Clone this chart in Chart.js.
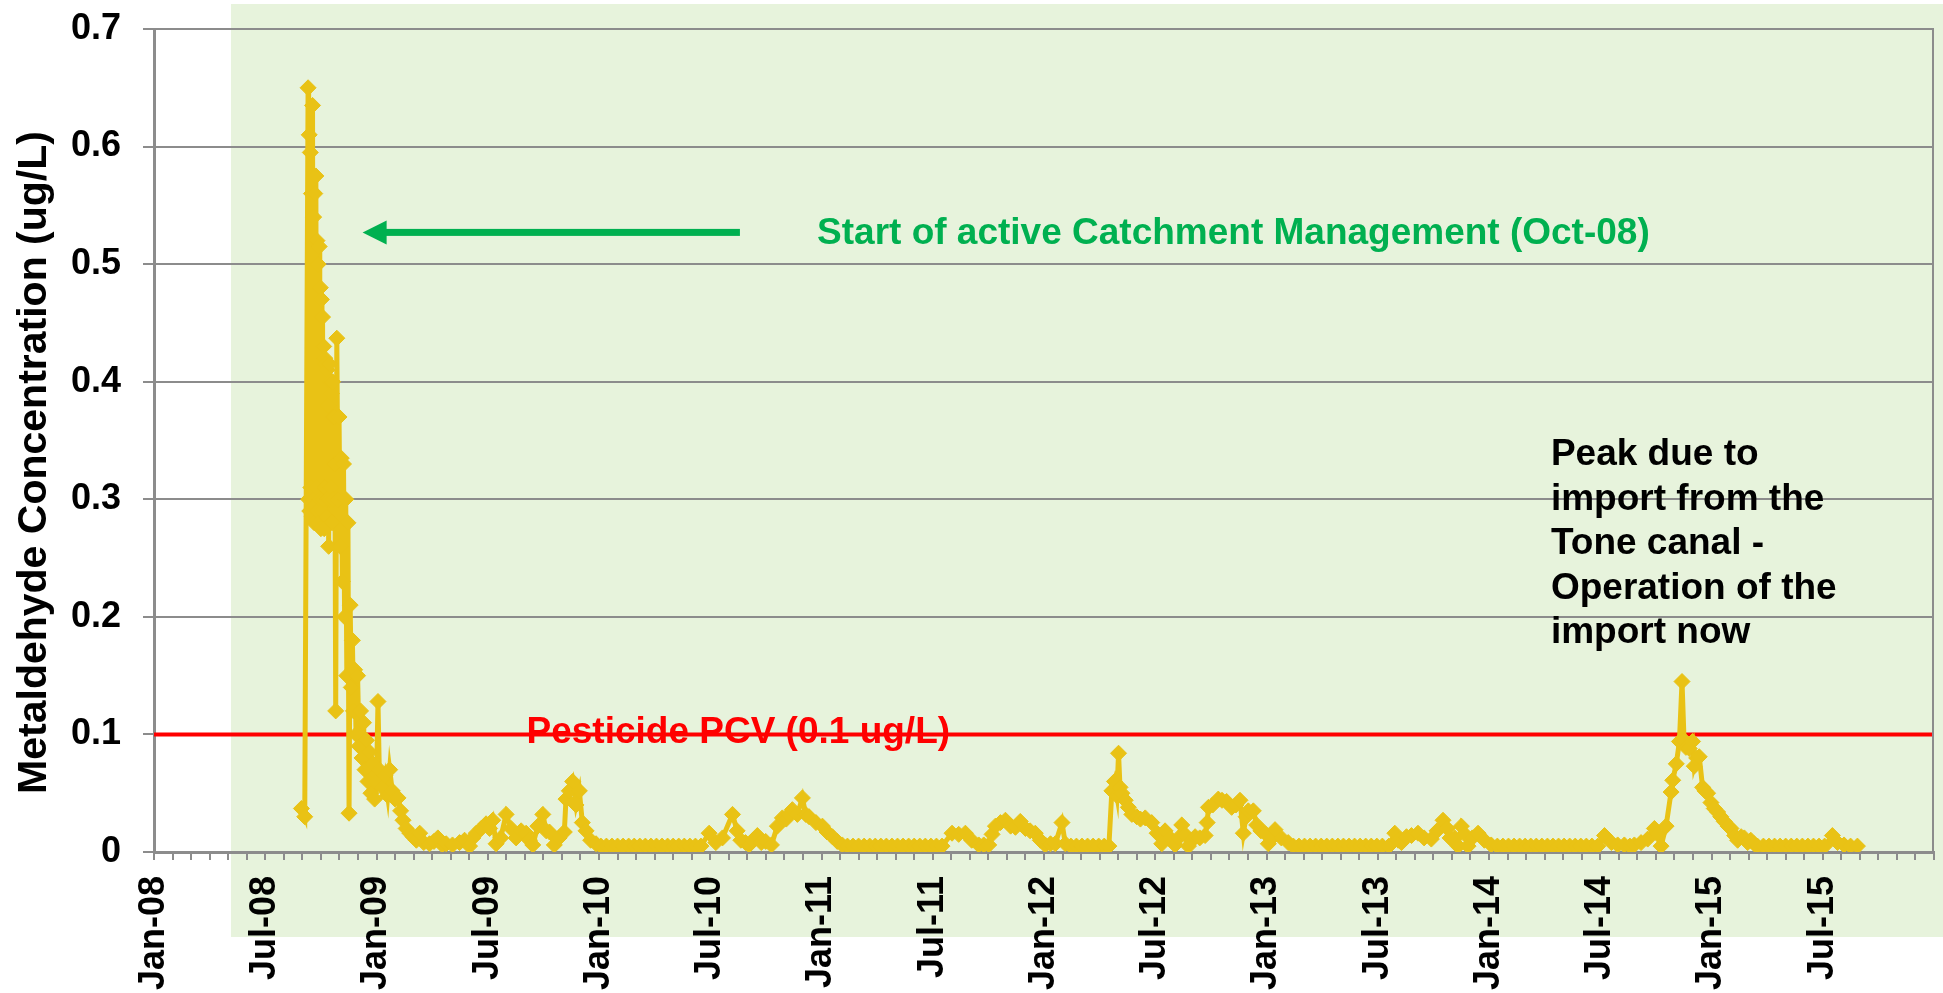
<!DOCTYPE html>
<html>
<head>
<meta charset="utf-8">
<title>Metaldehyde concentration</title>
<script src="https://cdn.jsdelivr.net/npm/chart.js@4.4.0/dist/chart.umd.min.js"></script>
<style>
  body { margin: 0; background: #fff; }
  #wrap { width: 1943px; height: 993px; }
</style>
</head>
<body>
<div id="wrap"><canvas id="metaldehydeChart" width="1943" height="993"></canvas></div>
<script>
// sample dates as months since 1 Jan 2008
var sampleMonths = [
    7.95, 8.13,
    8.31, 8.34, 8.37, 8.40, 8.43, 8.46, 8.49, 8.52, 8.55, 8.58, 8.61, 8.64, 8.67, 8.70, 8.73, 8.76, 8.79,
    8.82, 8.85, 8.88, 8.91, 8.94, 8.97, 9.00, 9.03, 9.06, 9.09, 9.12, 9.15, 9.18, 9.21, 9.24, 9.27, 9.30,
    9.33, 9.36, 9.39, 9.42, 9.45, 9.48, 9.51, 9.54, 9.57, 9.60, 9.63, 9.66, 9.69, 9.72, 9.75, 9.80, 9.86, 9.92, 9.98,
    10.04, 10.10, 10.16, 10.22, 10.28, 10.34, 10.40, 10.46, 10.52, 10.58, 10.64, 10.70, 10.76, 10.82, 10.90, 10.98,
    11.06, 11.14, 11.22, 11.30, 11.38, 11.46, 11.54, 11.62, 11.70, 11.80, 11.90, 12.00,
    12.08, 12.15, 12.30, 12.45, 12.60, 12.71, 12.85, 13.00, 13.16, 13.30, 13.43, 13.60, 13.80, 13.97,
    14.15, 14.33, 14.55, 14.86, 15.10, 15.31, 15.55, 15.76, 16.10, 16.48, 16.75, 17.02, 17.20, 17.38,
    17.65, 17.91, 18.10, 18.27, 18.45, 18.70, 18.99, 19.26, 19.53, 19.80, 20.07, 20.25, 20.43, 20.70,
    20.97, 21.15, 21.33, 21.59, 21.85, 22.13, 22.22, 22.40, 22.58, 22.76, 22.94, 23.10, 23.30, 23.55, 23.84,
    24.1, 24.4, 24.7, 25.0, 25.3, 25.6, 25.9, 26.2, 26.5, 26.8, 27.1, 27.4, 27.7, 28.0, 28.3, 28.6, 28.9, 29.2, 29.5,
    29.94, 30.30, 30.66, 31.20, 31.45, 31.65, 31.90, 32.10, 32.30, 32.54, 32.75, 32.99, 33.30, 33.62, 33.89,
    34.10, 34.25, 34.43, 34.70, 34.97, 35.15, 35.33, 35.70, 36.05, 36.30, 36.59, 36.85, 37.12,
    37.4, 37.7, 38.0, 38.3, 38.6, 38.9, 39.2, 39.5, 39.8, 40.1, 40.4, 40.7, 41.0, 41.3, 41.6, 41.9, 42.2, 42.5,
    43.04, 43.40, 43.76, 44.10, 44.48, 44.75, 45.02, 45.20, 45.38, 45.65, 45.92, 46.20, 46.46, 46.72,
    47.00, 47.25, 47.53, 47.80, 48.07, 48.35, 48.61, 48.97, 49.15,
    49.45, 49.75, 50.05, 50.35, 50.65, 50.95, 51.25, 51.50,
    51.66, 51.80, 51.93, 52.02, 52.10, 52.20, 52.38, 52.55, 52.74, 53.00, 53.20, 53.46, 53.81, 54.10,
    54.35, 54.53, 54.80, 55.07, 55.25, 55.43, 55.60, 55.79, 56.00, 56.15, 56.40, 56.69, 56.80, 56.87,
    57.10, 57.40, 57.60, 57.85, 58.12, 58.35, 58.57, 58.75, 58.90, 59.02, 59.29, 59.47, 59.70, 59.92,
    60.10, 60.30, 60.46, 60.80, 61.17,
    61.45, 61.75, 62.05, 62.35, 62.65, 62.95, 63.25, 63.55, 63.85, 64.15, 64.45, 64.75, 65.05, 65.35, 65.65, 65.95, 66.25, 66.60,
    66.92, 67.10, 67.28, 67.55, 67.82, 68.17, 68.50, 68.89, 69.20, 69.52, 69.75, 69.90, 70.15, 70.33,
    70.51, 70.70, 70.87, 71.10, 71.41, 71.75, 72.12,
    72.45, 72.75, 73.05, 73.35, 73.65, 73.95, 74.25, 74.55, 74.85, 75.15, 75.45, 75.75, 76.05, 76.35, 76.65, 76.95, 77.25, 77.55, 77.87,
    78.23, 78.60, 78.94, 79.30, 79.60, 79.84, 80.20, 80.56, 80.92, 81.10, 81.28, 81.55, 81.82, 81.91,
    82.10, 82.27, 82.41, 82.52, 82.62, 82.80, 82.98, 83.07, 83.20, 83.34, 83.52, 83.65, 83.79, 83.97,
    84.15, 84.33, 84.50, 84.69, 84.90, 85.05, 85.25, 85.41, 85.60, 85.77, 85.95, 86.12, 86.30, 86.48,
    86.8, 87.1, 87.4, 87.7, 88.0, 88.3, 88.6, 88.9, 89.2, 89.5, 89.8, 90.1,
    90.52, 90.80, 91.15, 91.50, 91.87
];

// metaldehyde (ug/L) for each sample above
var metaldehyde = [
    0.037, 0.030,
    0.650, 0.300, 0.610, 0.290, 0.595, 0.310, 0.560, 0.285, 0.635, 0.300, 0.540, 0.280, 0.560, 0.295, 0.575, 0.310, 0.520,
    0.290, 0.500, 0.280, 0.515, 0.300, 0.480, 0.275, 0.470, 0.290, 0.455, 0.300, 0.430, 0.275, 0.420, 0.310, 0.415, 0.285,
    0.410, 0.300, 0.380, 0.260, 0.415, 0.300, 0.400, 0.310, 0.390, 0.280, 0.400, 0.300, 0.370, 0.330, 0.370, 0.120, 0.437, 0.300, 0.370,
    0.260, 0.335, 0.230, 0.330, 0.200, 0.300, 0.150, 0.280, 0.033, 0.210, 0.140, 0.180, 0.120, 0.155, 0.100, 0.150,
    0.090, 0.120, 0.080, 0.110, 0.070, 0.095, 0.060, 0.085, 0.050, 0.075, 0.045, 0.060,
    0.128, 0.070, 0.055, 0.065, 0.048, 0.070, 0.052, 0.045, 0.046, 0.035, 0.027, 0.020, 0.016, 0.013,
    0.010, 0.016, 0.008, 0.007, 0.009, 0.012, 0.006, 0.007, 0.006, 0.008, 0.010, 0.005, 0.012, 0.016,
    0.020, 0.024, 0.020, 0.027, 0.007, 0.012, 0.032, 0.020, 0.012, 0.018, 0.016, 0.010, 0.006, 0.022,
    0.032, 0.018, 0.017, 0.006, 0.012, 0.017, 0.045, 0.052, 0.060, 0.040, 0.052, 0.025, 0.018, 0.010, 0.007,
    0.005, 0.005, 0.005, 0.005, 0.005, 0.005, 0.005, 0.005, 0.005, 0.005, 0.005, 0.005, 0.005, 0.005, 0.005, 0.005, 0.005, 0.005, 0.005,
    0.016, 0.008, 0.012, 0.032, 0.018, 0.010, 0.008, 0.006, 0.010, 0.014, 0.008, 0.009, 0.006, 0.022, 0.029,
    0.028, 0.032, 0.036, 0.032, 0.046, 0.032, 0.030, 0.025, 0.022, 0.017, 0.013, 0.009, 0.006,
    0.005, 0.005, 0.005, 0.005, 0.005, 0.005, 0.005, 0.005, 0.005, 0.005, 0.005, 0.005, 0.005, 0.005, 0.005, 0.005, 0.005, 0.005,
    0.016, 0.015, 0.016, 0.010, 0.006, 0.006, 0.006, 0.015, 0.022, 0.025, 0.027, 0.022, 0.021, 0.026,
    0.020, 0.018, 0.016, 0.010, 0.006, 0.007, 0.007, 0.025, 0.007,
    0.005, 0.005, 0.005, 0.005, 0.005, 0.005, 0.005, 0.005,
    0.052, 0.060, 0.048, 0.084, 0.055, 0.050, 0.044, 0.038, 0.032, 0.030, 0.028, 0.029, 0.025, 0.016,
    0.007, 0.018, 0.012, 0.006, 0.012, 0.023, 0.015, 0.005, 0.010, 0.013, 0.012, 0.014, 0.025, 0.038,
    0.040, 0.045, 0.044, 0.043, 0.038, 0.040, 0.044, 0.016, 0.030, 0.035, 0.035, 0.023, 0.018, 0.016,
    0.007, 0.012, 0.019, 0.012, 0.008,
    0.005, 0.005, 0.005, 0.005, 0.005, 0.005, 0.005, 0.005, 0.005, 0.005, 0.005, 0.005, 0.005, 0.005, 0.005, 0.005, 0.005, 0.005,
    0.016, 0.010, 0.008, 0.013, 0.014, 0.016, 0.012, 0.011, 0.018, 0.027, 0.020, 0.012, 0.012, 0.005,
    0.022, 0.015, 0.005, 0.012, 0.016, 0.010, 0.006,
    0.005, 0.005, 0.005, 0.005, 0.005, 0.005, 0.005, 0.005, 0.005, 0.005, 0.005, 0.005, 0.005, 0.005, 0.005, 0.005, 0.005, 0.005, 0.005,
    0.014, 0.008, 0.006, 0.006, 0.005, 0.006, 0.008, 0.011, 0.020, 0.015, 0.005, 0.022, 0.051, 0.061,
    0.075, 0.094, 0.145, 0.095, 0.089, 0.088, 0.094, 0.073, 0.080, 0.081, 0.055, 0.052, 0.050, 0.042,
    0.037, 0.034, 0.030, 0.026, 0.022, 0.020, 0.014, 0.010, 0.013, 0.012, 0.008, 0.010, 0.007, 0.005,
    0.005, 0.005, 0.005, 0.005, 0.005, 0.005, 0.005, 0.005, 0.005, 0.005, 0.005, 0.005,
    0.014, 0.008, 0.006, 0.005, 0.005
];

var xTickLabels = ['Jan-08', 'Jul-08', 'Jan-09', 'Jul-09', 'Jan-10', 'Jul-10', 'Jan-11', 'Jul-11',
    'Jan-12', 'Jul-12', 'Jan-13', 'Jul-13', 'Jan-14', 'Jul-14', 'Jan-15', 'Jul-15'];
var yTickLabels = ['0', '0.1', '0.2', '0.3', '0.4', '0.5', '0.6', '0.7'];

var pcvLimit = 0.1;             // pesticide PCV, ug/L
var catchmentStartMonth = 4.15; // shaded period start

Chart.defaults.font.family = "'Liberation Sans', Arial, sans-serif";

var points = sampleMonths.map(function (m, i) { return { x: m, y: metaldehyde[i] }; });

var annotationPlugin = {
    id: 'annotationPlugin',
    beforeDraw: function (chart) {
        var ctx = chart.ctx, area = chart.chartArea, x = chart.scales.x;
        var left = x.getPixelForValue(catchmentStartMonth);
        ctx.save();
        ctx.fillStyle = '#E7F3DC';
        ctx.fillRect(left, area.top - 25, chart.width - left, area.bottom - area.top + 110);
        ctx.restore();
    },
    afterDraw: function (chart) {
        var ctx = chart.ctx, area = chart.chartArea, x = chart.scales.x, y = chart.scales.y;
        ctx.save();

        // right border of plot area
        ctx.strokeStyle = '#8c8c8c';
        ctx.lineWidth = 2;
        ctx.beginPath();
        ctx.moveTo(area.right - 1, area.top);
        ctx.lineTo(area.right - 1, area.bottom);
        ctx.stroke();

        // green arrow
        var ay = y.getPixelForValue(0.527);
        var tipX = x.getPixelForValue(11.25);
        var tailX = x.getPixelForValue(31.6);
        ctx.fillStyle = '#00B050';
        ctx.fillRect(tipX + 22, ay - 3.5, tailX - tipX - 22, 7);
        ctx.beginPath();
        ctx.moveTo(tipX, ay);
        ctx.lineTo(tipX + 24, ay - 12);
        ctx.lineTo(tipX + 24, ay + 12);
        ctx.closePath();
        ctx.fill();

        ctx.font = "bold 37px 'Liberation Sans', Arial, sans-serif";
        ctx.textAlign = 'left';
        ctx.textBaseline = 'alphabetic';
        ctx.fillText('Start of active Catchment Management (Oct-08)', x.getPixelForValue(35.76), ay + 12);

        ctx.fillStyle = '#FF0000';
        ctx.fillText('Pesticide PCV (0.1 ug/L)', x.getPixelForValue(20.09), y.getPixelForValue(pcvLimit) + 9);

        ctx.fillStyle = '#000';
        var peakLines = ['Peak due to', 'import from the', 'Tone canal -', 'Operation of the', 'import now'];
        var px = x.getPixelForValue(75.34), py = y.getPixelForValue(0.329);
        peakLines.forEach(function (t, i) { ctx.fillText(t, px, py + i * 44.5); });

        // y axis title
        ctx.font = "bold 41px 'Liberation Sans', Arial, sans-serif";
        ctx.textAlign = 'center';
        ctx.textBaseline = 'middle';
        ctx.translate(35, area.top + (area.bottom - area.top) / 2 + 22);
        ctx.rotate(-Math.PI / 2);
        ctx.fillText('Metaldehyde Concentration (ug/L)', 0, 0);
        ctx.restore();
    }
};

var ctxMetaldehyde = document.getElementById('metaldehydeChart').getContext('2d');
var metaldehydeChart = new Chart(ctxMetaldehyde, {
    type: 'line',
    plugins: [annotationPlugin],
    data: {
        datasets: [{
            label: 'Metaldehyde',
            data: points,
            borderColor: '#E9C215',
            backgroundColor: '#E9C215',
            borderWidth: 5,
            pointStyle: 'rectRot',
            pointRadius: 8,
            pointBorderWidth: 1,
            tension: 0,
            order: 0
        }, {
            label: 'Pesticide PCV',
            data: [{ x: 0, y: pcvLimit }, { x: 96, y: pcvLimit }],
            borderColor: '#FF0000',
            borderWidth: 4,
            pointRadius: 0,
            order: 1
        }]
    },
    options: {
        responsive: false,
        animation: false,
        layout: { padding: { top: 29, right: 6, left: 0, bottom: 0 } },
        plugins: {
            legend: { display: false },
            tooltip: { enabled: false }
        },
        scales: {
            x: {
                type: 'linear',
                min: 0,
                max: 96,
                afterFit: function (scale) {
                    scale.height = 141;
                    scale.paddingLeft = 0;
                    scale.paddingRight = 0;
                },
                ticks: {
                    stepSize: 1,
                    autoSkip: false,
                    minRotation: 90,
                    maxRotation: 90,
                    padding: 16,
                    color: '#000',
                    font: { size: 36, weight: 'bold' },
                    callback: function (v) {
                        return (v % 6 === 0 && v < 96) ? xTickLabels[v / 6] : '';
                    }
                },
                grid: { drawOnChartArea: false, tickLength: 8, color: '#8c8c8c', lineWidth: 2 },
                border: { color: '#8c8c8c', width: 3 }
            },
            y: {
                min: 0,
                max: 0.7,
                afterFit: function (scale) {
                    scale.width = 154;
                    scale.paddingTop = 0;
                    scale.paddingBottom = 0;
                },
                ticks: {
                    stepSize: 0.1,
                    padding: 22,
                    color: '#000',
                    font: { size: 36, weight: 'bold' },
                    callback: function (v, i) { return yTickLabels[i]; }
                },
                grid: { color: '#8c8c8c', lineWidth: 2, tickLength: 11 },
                border: { color: '#8c8c8c', width: 3 }
            }
        }
    }
});
</script>
</body>
</html>
